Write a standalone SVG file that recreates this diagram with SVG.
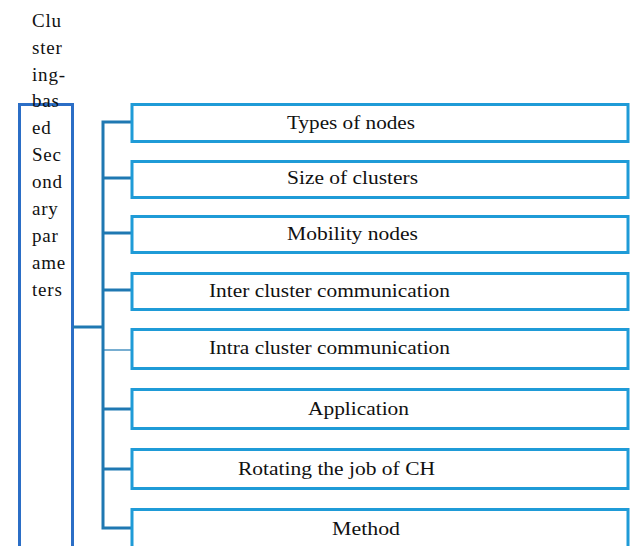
<svg xmlns="http://www.w3.org/2000/svg" width="630" height="546" viewBox="0 0 630 546">
  <style>
    .bg { fill: #ffffff; }
    .root { fill: #ffffff; stroke: #2b6ec6; stroke-width: 3; }
    .box { fill: #ffffff; stroke: #1f9bd7; stroke-width: 3; }
    .trunk { fill: none; stroke: #1f78b2; stroke-width: 3; }
    .thin { fill: none; stroke: #1f78b2; stroke-width: 1.2; }
    text { font-family: 'Liberation Serif', 'DejaVu Serif', serif; font-size: 19px; fill: #111111; }
    .side { letter-spacing: 0.8px; }
  </style>
  <rect class="bg" x="0" y="0" width="630" height="546"/>

  <!-- left column: root node -->
  <g id="root" font-family="Liberation Serif, serif">
    <rect class="root" x="19.5" y="104.5" width="53" height="470"/>
    <text class="side" x="32" y="27">Clu</text>
    <text class="side" x="32" y="54">ster</text>
    <text class="side" x="32" y="81">ing-</text>
    <text class="side" x="32" y="107">bas</text>
    <text class="side" x="32" y="134">ed</text>
    <text class="side" x="32" y="161">Sec</text>
    <text class="side" x="32" y="188">ond</text>
    <text class="side" x="32" y="215">ary</text>
    <text class="side" x="32" y="242">par</text>
    <text class="side" x="32" y="269">ame</text>
    <text class="side" x="32" y="296">ters</text>
  </g>

  <!-- connectors -->
  <g id="connectors">
    <path class="trunk" d="M73 327 H103"/>
    <path class="trunk" d="M131 122 H103 V528 H131"/>
    <path class="trunk" d="M103 178 H131"/>
    <path class="trunk" d="M103 233 H131"/>
    <path class="trunk" d="M103 290 H131"/>
    <path class="thin" d="M103 350 H131"/>
    <path class="trunk" d="M103 409 H131"/>
    <path class="trunk" d="M103 469 H131"/>
  </g>

  <g id="n1">
    <rect class="box" x="132" y="104.5" width="496" height="37"/>
    <text x="287" y="129" textLength="128" lengthAdjust="spacingAndGlyphs">Types of nodes</text>
  </g>
  <g id="n2">
    <rect class="box" x="132" y="161.5" width="496" height="36"/>
    <text x="287" y="184" textLength="131" lengthAdjust="spacingAndGlyphs">Size of clusters</text>
  </g>
  <g id="n3">
    <rect class="box" x="132" y="216.5" width="496" height="36"/>
    <text x="287" y="240" textLength="131" lengthAdjust="spacingAndGlyphs">Mobility nodes</text>
  </g>
  <g id="n4">
    <rect class="box" x="132" y="273.5" width="496" height="36"/>
    <text x="209" y="297" textLength="241" lengthAdjust="spacingAndGlyphs">Inter cluster communication</text>
  </g>
  <g id="n5">
    <rect class="box" x="132" y="329.5" width="496" height="39"/>
    <text x="209" y="354" textLength="241" lengthAdjust="spacingAndGlyphs">Intra cluster communication</text>
  </g>
  <g id="n6">
    <rect class="box" x="132" y="389.5" width="496" height="39"/>
    <text x="308" y="415" textLength="101" lengthAdjust="spacingAndGlyphs">Application</text>
  </g>
  <g id="n7">
    <rect class="box" x="132" y="449.5" width="496" height="39"/>
    <text x="238" y="475" textLength="197" lengthAdjust="spacingAndGlyphs">Rotating the job of CH</text>
  </g>
  <g id="n8">
    <rect class="box" x="132" y="509.5" width="496" height="40"/>
    <text x="332" y="535" textLength="68" lengthAdjust="spacingAndGlyphs">Method</text>
  </g>
</svg>
